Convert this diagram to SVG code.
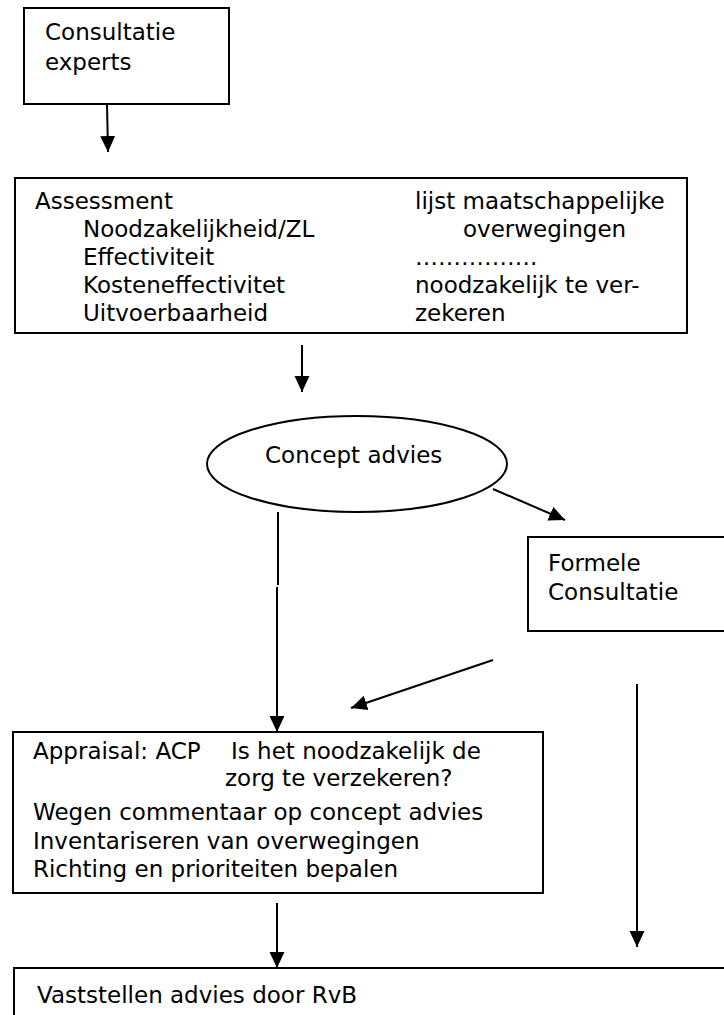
<svg xmlns="http://www.w3.org/2000/svg" width="724" height="1015" viewBox="0 0 724 1015">
<style>
.box{fill:#fff;stroke:#000;stroke-width:2}
.t{font-family:"DejaVu Sans",sans-serif;font-size:23px;fill:#000}
.c{fill:none;stroke:#000;stroke-width:2}
</style>
<defs>
<marker id="ah" markerUnits="userSpaceOnUse" markerWidth="16" markerHeight="16" viewBox="0 0 15 14" refX="15" refY="7" orient="auto">
<path d="M0,0 L15,7 L0,14 Z" fill="#000"/>
</marker>
</defs>
<rect width="724" height="1015" fill="#fff"/>
<g id="consultatie-experts">
<rect class="box" x="24" y="8" width="205" height="96"/>
<text class="t" x="45" y="40">Consultatie</text>
<text class="t" x="45" y="70">experts</text>
</g>
<g id="assessment">
<rect class="box" x="15" y="178" width="672" height="155"/>
<text class="t" x="35" y="209">Assessment</text>
<text class="t" x="83" y="237">Noodzakelijkheid/ZL</text>
<text class="t" x="83" y="265">Effectiviteit</text>
<text class="t" x="83" y="293">Kosteneffectivitet</text>
<text class="t" x="83" y="321">Uitvoerbaarheid</text>
<text class="t" x="415" y="209">lijst maatschappelijke</text>
<text class="t" x="463" y="237">overwegingen</text>
<text class="t" x="415" y="265">…………….</text>
<text class="t" x="415" y="293">noodzakelijk te ver-</text>
<text class="t" x="415" y="321">zekeren</text>
</g>
<g id="concept-advies">
<ellipse class="box" cx="357" cy="464" rx="150" ry="48"/>
<text class="t" x="265" y="463">Concept advies</text>
</g>
<g id="formele-consultatie">
<rect class="box" x="528" y="537" width="210" height="94"/>
<text class="t" x="548" y="571">Formele</text>
<text class="t" x="548" y="600">Consultatie</text>
</g>
<g id="appraisal">
<rect class="box" x="13" y="732" width="530" height="161"/>
<text class="t" x="33" y="759">Appraisal: ACP</text>
<text class="t" x="231" y="759">Is het noodzakelijk de</text>
<text class="t" x="225" y="786">zorg te verzekeren?</text>
<text class="t" x="33" y="820">Wegen commentaar op concept advies</text>
<text class="t" x="33" y="849">Inventariseren van overwegingen</text>
<text class="t" x="33" y="877">Richting en prioriteiten bepalen</text>
</g>
<g id="vaststellen">
<rect class="box" x="14" y="968" width="730" height="70"/>
<text class="t" x="37" y="1003">Vaststellen advies door RvB</text>
</g>
<g id="connectors">
<line class="c" x1="107" y1="104" x2="108" y2="152" marker-end="url(#ah)"/>
<line class="c" x1="302" y1="345" x2="302" y2="392" marker-end="url(#ah)"/>
<line class="c" x1="493" y1="489" x2="565" y2="520" marker-end="url(#ah)"/>
<line class="c" x1="278" y1="512" x2="278" y2="585"/>
<line class="c" x1="277" y1="587" x2="277" y2="732" marker-end="url(#ah)"/>
<line class="c" x1="493" y1="660" x2="351" y2="708" marker-end="url(#ah)"/>
<line class="c" x1="637" y1="684" x2="637" y2="947" marker-end="url(#ah)"/>
<line class="c" x1="277" y1="903" x2="277" y2="968" marker-end="url(#ah)"/>
</g>
</svg>
